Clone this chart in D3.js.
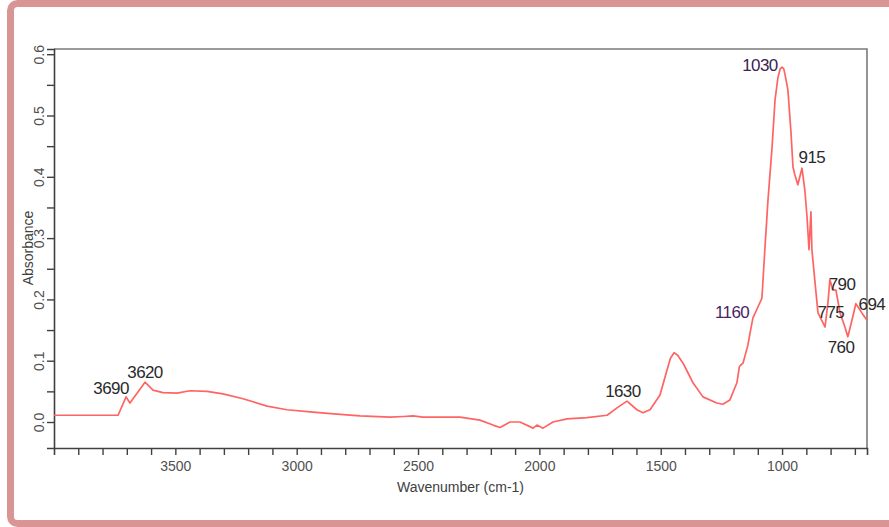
<!DOCTYPE html>
<html>
<head>
<meta charset="utf-8">
<script src="https://cdn.jsdelivr.net/npm/d3@7/dist/d3.min.js"></script>
<style>
  html, body { margin: 0; padding: 0; background: #ffffff; }
  svg { display: block; }
  text { font-family: "Liberation Sans", Arial, sans-serif; }
</style>
</head>
<body>
<script>
// ---- data ----
const wavenumbers = [4000, 3951, 3736, 3703, 3687, 3625, 3592, 3551, 3493, 3440, 3370, 3304, 3221, 3122, 3040,
  2933, 2834, 2739, 2616, 2560, 2521, 2480, 2381, 2327, 2245, 2191, 2162, 2121, 2080, 2026, 2010, 1985, 1944,
  1886, 1804, 1721, 1680, 1639, 1598, 1573, 1544, 1503, 1474, 1460, 1445, 1430, 1408, 1390, 1367, 1326, 1269, 1244, 1215, 1186,
  1176, 1170, 1161, 1141, 1132, 1120, 1099, 1083, 1071, 1058, 1042, 1029, 1017, 1008, 1000, 993, 988, 976, 963, 955, 947, 935,
  918, 906, 897, 889, 881, 877, 864, 852, 823, 811, 803, 790, 778, 761, 741, 729, 712, 696, 671, 650];
const absorbance = [0.011, 0.011, 0.011, 0.041, 0.031, 0.065, 0.052, 0.048, 0.047, 0.051, 0.050, 0.046, 0.038, 0.026, 0.020,
  0.016, 0.013, 0.010, 0.008, 0.009, 0.010, 0.008, 0.008, 0.008, 0.003, -0.005, -0.009, 0.000, 0.000, -0.010, -0.005, -0.010, 0.000,
  0.005, 0.007, 0.011, 0.023, 0.034, 0.020, 0.015, 0.020, 0.044, 0.085, 0.104, 0.113, 0.109, 0.096, 0.082, 0.064, 0.041, 0.031, 0.029, 0.036, 0.064,
  0.090, 0.093, 0.096, 0.125, 0.145, 0.170, 0.188, 0.202, 0.281, 0.362, 0.444, 0.525, 0.562, 0.576, 0.579, 0.576, 0.567, 0.542, 0.471, 0.416, 0.403, 0.387,
  0.414, 0.378, 0.334, 0.281, 0.343, 0.281, 0.227, 0.178, 0.155, 0.194, 0.232, 0.215, 0.215, 0.178, 0.155, 0.139, 0.166, 0.193, 0.178, 0.166];

const peakLabels = ["3690", "3620", "1630", "1160", "1030", "915", "790", "775", "760", "694"];
const peakLabelWn = [3765, 3625, 1656, 1206, 1091, 877, 753, 799, 757, 630];
const peakLabelAbs = [0.054, 0.080, 0.049, 0.179, 0.581, 0.431, 0.225, 0.179, 0.121, 0.192];

const xTickLabels = [3500, 3000, 2500, 2000, 1500, 1000];
const yTickLabels = [0.0, 0.1, 0.2, 0.3, 0.4, 0.5, 0.6];
const xTitle = "Wavenumber (cm-1)";
const yTitle = "Absorbance";

// ---- layout ----
const W = 889, H = 527;
const L = 54, R = 867, T = 49, B = 448;

const svg = d3.select("body").append("svg").attr("width", W).attr("height", H);

// pink frame
svg.append("rect").attr("x", 10.5).attr("y", 3.5).attr("width", 920).attr("height", 520)
  .attr("rx", 7).attr("fill", "none").attr("stroke", "#d99594").attr("stroke-width", 7);

const x = d3.scaleLinear().domain([4000, 650]).range([L, R]);
const y = d3.scaleLinear().domain([-0.0424, 0.6085]).range([B, T]);

// frame top/right
svg.append("path").attr("d", `M${L},${T}H${R}V${B}`).attr("fill", "none")
  .attr("stroke", "#7a7a7a").attr("stroke-width", 1.6);

// x axis
const xTicks = d3.range(3900, 650, -100);
const xAxis = d3.axisBottom(x).tickValues(xTicks).tickSize(7)
  .tickFormat(d => xTickLabels.includes(d) ? String(d) : "");
const gx = svg.append("g").attr("transform", `translate(0,${B})`).call(xAxis);
gx.select(".domain").attr("stroke", "#404040").attr("stroke-width", 1.6);
gx.selectAll(".tick line").attr("stroke", "#404040").attr("stroke-width", 1.4);
gx.selectAll(".tick text").attr("fill", "#505050").attr("font-size", 14).attr("dy", "0.9em")
  .attr("font-family", "'Liberation Sans', Arial, sans-serif");

// y axis
const yTicks = d3.range(0, 0.601, 0.05).map(v => +v.toFixed(2));
const yAxis = d3.axisLeft(y).tickValues(yTicks).tickSize(7)
  .tickFormat(d => yTickLabels.some(v => Math.abs(v - d) < 1e-9) ? d.toFixed(1) : "");
const gy = svg.append("g").attr("transform", `translate(${L},0)`).call(yAxis);
gy.select(".domain").attr("stroke", "#404040").attr("stroke-width", 1.6);
gy.selectAll(".tick line").attr("stroke", "#404040").attr("stroke-width", 1.4);
gy.selectAll(".tick text").attr("fill", "#505050").attr("font-size", 14)
  .attr("font-family", "'Liberation Sans', Arial, sans-serif")
  .attr("x", null).attr("dy", null)
  .attr("text-anchor", "middle").attr("dominant-baseline", "central")
  .attr("transform", "translate(-15,0) rotate(-90)");

// axis titles
svg.append("text").attr("x", (L + R) / 2 + 0).attr("y", 487).attr("text-anchor", "middle")
  .attr("dominant-baseline", "central").attr("font-size", 14).attr("fill", "#404040").text(xTitle);
svg.append("text").attr("transform", "translate(28,248) rotate(-90)").attr("text-anchor", "middle")
  .attr("dominant-baseline", "central").attr("font-size", 14).attr("fill", "#404040").text(yTitle);

// spectrum
const pts = wavenumbers.map((w, i) => [w, absorbance[i]]);
const line = d3.line().x(d => x(d[0])).y(d => y(d[1]));
svg.append("path").datum(pts).attr("d", line).attr("fill", "none")
  .attr("stroke", "#ff6464").attr("stroke-width", 1.7).attr("stroke-linejoin", "round");

// peak labels
const labelColors = {"1160": "#4a1f63", "1030": "#3a2350"};
svg.append("g").selectAll("text").data(peakLabels).join("text")
  .attr("x", (d, i) => x(peakLabelWn[i]))
  .attr("y", (d, i) => y(peakLabelAbs[i]))
  .attr("text-anchor", "middle").attr("dominant-baseline", "central")
  .attr("font-size", 17).attr("letter-spacing", -0.6)
  .attr("fill", d => labelColors[d] || "#2a2a2a")
  .text(d => d);
</script>
</body>
</html>
